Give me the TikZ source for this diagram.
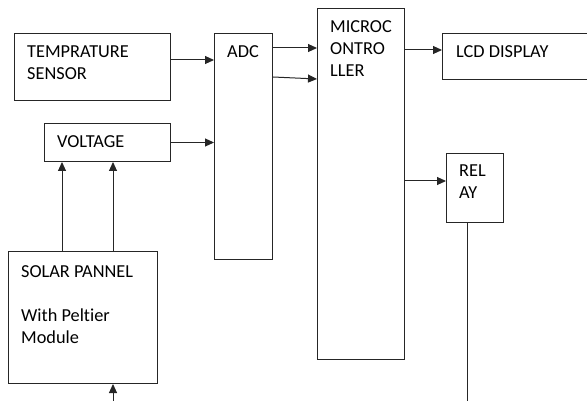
\documentclass[tikz,border=0pt]{standalone}
\usepackage{fontspec}
\setmainfont{Carlito}[Ligatures={NoCommon}]
\usetikzlibrary{arrows.meta}

\tikzset{
  blk/.style={draw=black!85, line width=1pt, anchor=north west, inner sep=0pt},
  lbl/.style={anchor=north west, inner sep=0pt, align=left, text=black,
              font=\fontsize{18.3}{22}\selectfont},
  arr/.style={draw=black!85, line width=1pt, -{Triangle[length=9pt,width=8pt]}},
  wire/.style={draw=black!85, line width=1pt}
}

\begin{document}
\begin{tikzpicture}[x=1pt, y=-1pt]

    %% =========================================================
    %% frame: 587 x 401, origin top-left, y grows downwards
    %% =========================================================
    \useasboundingbox (0,0) rectangle (587,401);

    %% BLOCKS
    \node[blk, minimum width=156pt, minimum height=67pt]  (temp)  at (14,33)  {};
    \node[blk, minimum width=126pt, minimum height=38pt]  (volt)  at (44,123) {};
    \node[blk, minimum width=58pt,  minimum height=226pt] (adc)   at (214,33) {};
    \node[blk, minimum width=87pt,  minimum height=351pt] (mcu)   at (317,8)  {};
    \node[blk, minimum width=150pt, minimum height=46pt]  (lcd)   at (442,33) {}; % runs off the right edge
    \node[blk, minimum width=57pt,  minimum height=69pt]  (relay) at (446,153) {};
    \node[blk, minimum width=149pt, minimum height=132pt] (solar) at (8,251)  {};

    %% LABELS (top-left inside each block)
    \node[lbl] (tempT)  at ([shift={(13,13)}]temp.north west)  {TEMPRATURE\\SENSOR};
    \node[lbl] (voltT)  at ([shift={(13,12)}]volt.north west)  {VOLTAGE};
    \node[lbl] (adcT)   at ([shift={(13,12)}]adc.north west)   {ADC};
    \node[lbl] (mcuT)   at ([shift={(13,12)}]mcu.north west)   {MICROC\\ONTRO\\LLER};
    \node[lbl] (lcdT)   at ([shift={(14,12)}]lcd.north west)   {LCD DISPLAY};
    \node[lbl] (relayT) at ([shift={(13,12)}]relay.north west) {REL\\AY};
    \node[lbl] (solarT) at ([shift={(13,14)}]solar.north west)
      {SOLAR PANNEL\\[22pt]With Peltier\\Module};

    %% ARROWS
    \draw[arr] (temp.east |- 0,60)  -- (adc.west |- 0,60);
    \draw[arr] (volt.east)          -- (volt.east -| adc.west);
    \draw[arr] (adc.east |- 0,48)   -- (mcu.west |- 0,48);
    \draw[arr] (adc.east |- 0,77)   -- (mcu.west |- 0,79);
    \draw[arr] (mcu.east |- 0,50)   -- (lcd.west |- 0,50);
    \draw[arr] (mcu.east |- 0,181)  -- (relay.west |- 0,181);

    % solar panel up to voltage
    \foreach \px in {62,113}{
      \draw[arr] (solar.north -| \px,0) -- (volt.south -| \px,0);
    }

    % loose ends at the bottom
    \coordinate (solarIn) at (113,401);
    \draw[arr] (solarIn) -- (solarIn |- solar.south);
    \coordinate (relayOut) at (467,401);
    \draw[wire] (relayOut |- relay.south) -- (relayOut);

\end{tikzpicture}
\end{document}
